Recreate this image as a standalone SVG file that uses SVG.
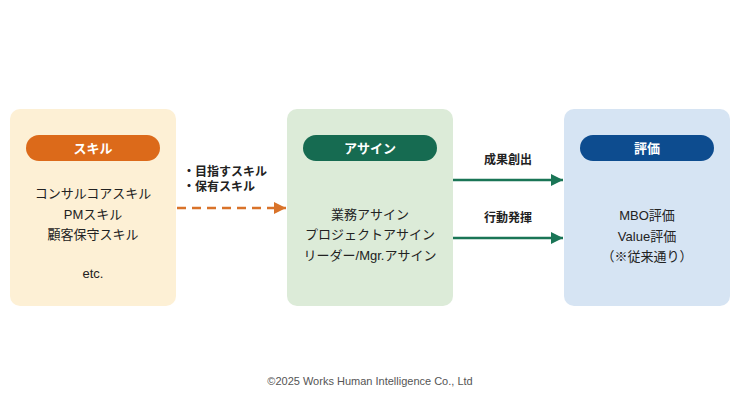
<svg xmlns="http://www.w3.org/2000/svg" width="740" height="416" viewBox="0 0 740 416">
<style>
text{font-family:"Liberation Sans","Noto Sans CJK JP",sans-serif;font-size:13px;fill:#222;text-anchor:middle}
.h{fill:#fff;font-weight:bold;font-size:13px}
.b{font-weight:bold;font-size:12px}
.l{text-anchor:start}
</style>
<defs>
<marker id="ao" viewBox="0 0 10 10" refX="10" refY="5" markerWidth="5" markerHeight="5" orient="auto"><path d="M0,0L10,5L0,10z" fill="#d9732a"/></marker>
<marker id="ag" viewBox="0 0 10 10" refX="10" refY="5" markerWidth="5" markerHeight="5" orient="auto"><path d="M0,0L10,5L0,10z" fill="#1a7556"/></marker>
</defs>
<rect width="740" height="416" fill="#fff"/>
<g id="skill">
<rect x="10" y="109" width="166" height="197" rx="10" fill="#fdf0d5"/>
<rect x="26" y="135" width="134" height="26" rx="13" fill="#dc6a1a"/>
<text x="93" y="153" class="h">スキル</text>
<text x="93" y="198">コンサルコアスキル</text>
<text x="93" y="219">PMスキル</text>
<text x="93" y="239">顧客保守スキル</text>
<text x="93" y="278">etc.</text>
</g>
<g id="assign">
<rect x="287" y="109" width="166" height="197" rx="10" fill="#dcebd8"/>
<rect x="303" y="135" width="134" height="26" rx="13" fill="#166b51"/>
<text x="370" y="153" class="h">アサイン</text>
<text x="370" y="219">業務アサイン</text>
<text x="370" y="239">プロジェクトアサイン</text>
<text x="370" y="260">リーダー/Mgr.アサイン</text>
</g>
<g id="eval">
<rect x="564" y="109" width="166" height="197" rx="10" fill="#d6e4f3"/>
<rect x="580" y="135" width="134" height="26" rx="13" fill="#0d4c8f"/>
<text x="647" y="153" class="h">評価</text>
<text x="647" y="220">MBO評価</text>
<text x="647" y="241">Value評価</text>
<text x="647" y="261">（※従来通り）</text>
</g>
<g id="connectors">
<line x1="177" y1="208" x2="286" y2="208" stroke="#d9732a" stroke-width="2.5" stroke-dasharray="9,6" marker-end="url(#ao)"/>
<line x1="453" y1="180" x2="563" y2="180" stroke="#1a7556" stroke-width="2.5" marker-end="url(#ag)"/>
<line x1="453" y1="238" x2="563" y2="238" stroke="#1a7556" stroke-width="2.5" marker-end="url(#ag)"/>
<text x="183" y="176" class="b l">・目指すスキル</text>
<text x="183" y="191" class="b l">・保有スキル</text>
<text x="508" y="164" class="b">成果創出</text>
<text x="508" y="222" class="b">行動発揮</text>
</g>
<text x="370" y="385" style="font-size:11px;fill:#555">©2025 Works Human Intelligence Co., Ltd</text>
</svg>
